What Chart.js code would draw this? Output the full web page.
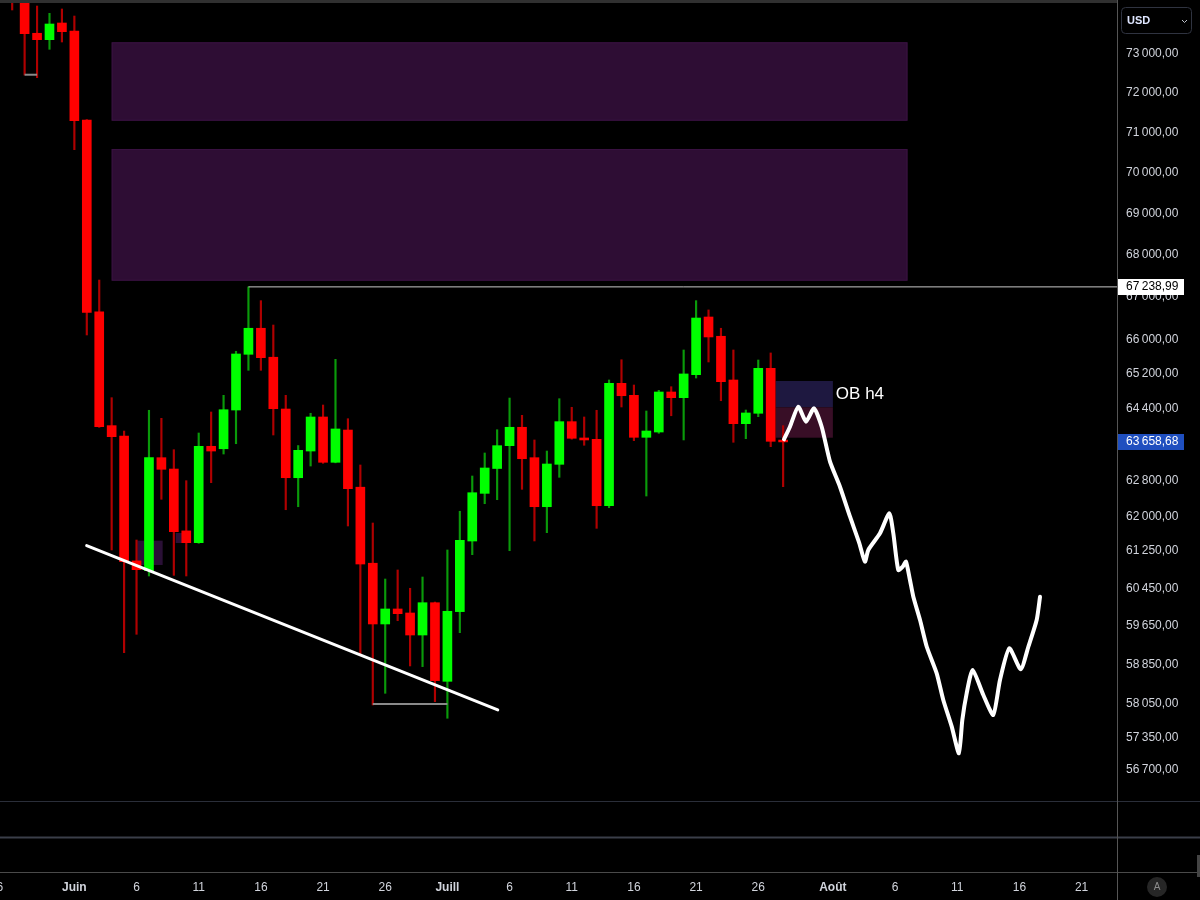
<!DOCTYPE html>
<html>
<head>
<meta charset="utf-8">
<script src="https://cdn.jsdelivr.net/npm/chart.js@4.4.1/dist/chart.umd.min.js"></script>
<style>
  html, body { margin: 0; padding: 0; background: #000; }
  #wrap { width: 1200px; height: 900px; }
</style>
</head>
<body>
<div id="wrap"><canvas id="graphique" width="1200" height="900"></canvas></div>
<script>
// ======== DONNÉES (jours comptés depuis le 1er juin) ========
const jours = [-5, -4, -3, -2, -1, 0, 1, 2, 3, 4, 5, 6, 7, 8, 9, 10, 11, 12, 13, 14, 15, 16, 17, 18, 19,
  20, 21, 22, 23, 24, 25, 26, 27, 28, 29, 30, 31, 32, 33, 34, 35, 36, 37, 38, 39, 40, 41, 42, 43, 44,
  45, 46, 47, 48, 49, 50, 51, 52, 53, 54, 55, 56, 57];
const ouvertures = [74900, 74700, 73536, 73370, 73803, 73595, 71320, 66648, 64025, 63792, 61040, 60830, 63305, 63052, 61690,
  61434, 63560, 63505, 64379, 65658, 66264, 65590, 64402, 62859, 63454, 64221, 63202, 63926, 62649, 60990,
  59696, 60013, 59928, 59464, 60146, 58500, 59957, 61470, 62513, 63064, 63574, 63988, 63305, 62219, 63157,
  64115, 63747, 63717, 62241, 64989, 64714, 63762, 63881, 64790, 64660, 65187, 66528, 66077, 65065, 64069,
  64305, 65334, 63700];
const hauts = [75100, 74900, 74247, 74056, 74169, 73985, 71330, 67402, 64660, 63903, 61492, 64373, 64191, 63484, 62793,
  63859, 64334, 64714, 65728, 67238.99, 66913, 66340, 64714, 63577, 64305, 64493, 65542, 64182, 63142, 61862,
  60651, 60845, 60453, 60694, 60160, 61276, 62119, 62897, 63410, 63933, 64652, 64259, 63702, 63454, 64637,
  64441, 64221, 64373, 65065, 65532, 64950, 64357, 64828, 64911, 65758, 66913, 66694, 66264, 65758, 64379,
  65526, 65689, 64025];
const bas = [74143, 72460, 72392, 73121, 73310, 70576, 66107, 63986, 61276, 59094, 59479, 60716, 62382, 60730, 60716,
  61420, 62749, 63387, 63618, 65288, 65288, 63814, 62153, 62219, 63119, 63179, 63190, 61797, 59047, 58014,
  58253, 59765, 58818, 58804, 58081, 57742, 59513, 61174, 62285, 62373, 61260, 62602, 61471, 61651, 62868,
  63720, 63583, 61746, 62197, 64448, 63686, 62454, 63852, 64249, 63702, 65110, 65480, 64591, 63650, 63731,
  64228, 63551, 62660];
const clotures = [74600, 73525, 73370, 73777, 73577, 71302, 66638, 64001, 63776, 61023, 60851, 63305, 63046, 61673, 61434,
  63560, 63454, 64386, 65665, 66264, 65580, 64409, 62859, 63470, 64221, 63202, 63950, 62616, 60973, 59696,
  60013, 59913, 59464, 60146, 58514, 59964, 61485, 62527, 63075, 63574, 63988, 63282, 62219, 63164, 64115,
  63740, 63702, 62241, 64989, 64705, 63762, 63904, 64790, 64660, 65204, 66504, 66061, 65026, 64069, 64312,
  65334, 63672, 63658.68];

// ======== AXES ========
const joursTicks = [-6, 0, 5, 10, 15, 20, 25, 30, 35, 40, 45, 50, 55, 61, 66, 71, 76, 81];
const labelsTicks = ['6', 'Juin', '6', '11', '16', '21', '26', 'Juill', '6', '11', '16', '21', '26', 'Août', '6', '11', '16', '21'];
const moisTicks = ['Juin', 'Juill', 'Août'];
const prixTicks = [73000, 72000, 71000, 70000, 69000, 68000, 67000, 66000, 65200, 64400,
  62800, 62000, 61250, 60450, 59650, 58850, 58050, 57350, 56700];
const xMin = -5.98, xMax = 83.85;
const yMin = 56080, yMax = 74326;

// ======== ANNOTATIONS ========
const zonesDebut = [3, 3];
const zonesFin = [67, 67];
const zonesHaut = [73302, 70593];
const zonesBas = [71301, 67386];
const petitesZonesDebut = [5.06, 8.15];
const petitesZonesFin = [7.1, 8.76];
const petitesZonesHaut = [61478, 61644];
const petitesZonesBas = [60952, 61427];
const obDebut = 56.4, obFin = 61;
const obPrix = [65042, 64441, 63753];
const niveauHaut = 67238.99;
const dernierPrix = 63658.68;
const tendanceJours = [0.99, 34.05];
const tendancePrix = [61369, 57912];
const crochetsJours = [[-4, -3], [24, 30]];
const crochetsPrix = [72468, 58034];
const projJours = [57.07, 57.55, 58.22, 58.84, 59.48, 60.10, 60.77, 61.57, 62.38, 63.13, 63.58, 63.85, 64.79,
  65.54, 65.86, 66.26, 66.62, 66.88, 67.20, 67.47, 68.01, 68.55, 69.35, 69.88, 70.56, 71.14, 71.41, 71.76,
  72.24, 73.10, 73.90, 74.44, 75.19, 76.11, 76.72, 77.39, 77.66];
const projPrix = [63717, 64001, 64455, 64115, 64418, 64001, 63216, 62660, 62000, 61421, 61023, 61276, 61638,
  62074, 61638, 60844, 60916, 61023, 60630, 60274, 59779, 59218, 58665, 58116, 57571, 57033, 57707, 58253,
  58735, 58218, 57810, 58528, 59185, 58750, 59218, 59779, 60274];

// ======== STYLE ========
const POLICE = 'Liberation Sans';
const VERT = '#00ff00', ROUGE = '#ff0000';
const VERT_MECHE = '#0a9a0a', ROUGE_MECHE = '#b00000';
const TEXTE = '#d1d4dc';

function formatPrix(v) {
  const [ent, dec] = v.toFixed(2).split('.');
  return ent.slice(0, -3) + '\u2009' + ent.slice(-3) + ',' + dec;
}

const hausse = jours.map((_, i) => clotures[i] >= ouvertures[i]);

const corps = jours.map((d, i) => ({ x: d, y: [ouvertures[i], clotures[i]] }));
const meches = jours.map((d, i) => ({ x: d, y: [bas[i], hauts[i]] }));

const ligneNiveau = [{ x: 14, y: niveauHaut }, { x: xMax + 1, y: niveauHaut }];
const ligneTendance = tendanceJours.map((d, i) => ({ x: d, y: tendancePrix[i] }));
const projection = projJours.map((d, i) => ({ x: d, y: projPrix[i] }));

function ligne(data, couleur, epaisseur, extra) {
  return Object.assign({
    type: 'line', data, borderColor: couleur, borderWidth: epaisseur,
    pointRadius: 0, tension: 0, order: 0, fill: false
  }, extra || {});
}

// ======== PLUGIN : zones, étiquettes, cadre ========
const decor = {
  id: 'decor',
  beforeDraw(chart) {
    const c = chart.ctx;
    c.save();
    c.fillStyle = '#000';
    c.fillRect(0, 0, chart.width, chart.height);
    c.restore();
  },
  beforeDatasetsDraw(chart) {
    const c = chart.ctx, x = chart.scales.x, y = chart.scales.y;
    c.save();
    zonesDebut.forEach((d, i) => {
      const x0 = x.getPixelForValue(d), x1 = x.getPixelForValue(zonesFin[i]);
      const y0 = y.getPixelForValue(zonesHaut[i]), y1 = y.getPixelForValue(zonesBas[i]);
      c.fillStyle = '#2e0d34';
      c.fillRect(x0, y0, x1 - x0, y1 - y0);
      c.strokeStyle = '#3a1242';
      c.lineWidth = 1;
      c.strokeRect(x0 + 0.5, y0 + 0.5, x1 - x0 - 1, y1 - y0 - 1);
    });
    petitesZonesDebut.forEach((d, i) => {
      const x0 = x.getPixelForValue(d), x1 = x.getPixelForValue(petitesZonesFin[i]);
      const y0 = y.getPixelForValue(petitesZonesHaut[i]), y1 = y.getPixelForValue(petitesZonesBas[i]);
      c.fillStyle = '#2a1036';
      c.fillRect(x0, y0, x1 - x0, y1 - y0);
    });
    // OB h4
    const ox0 = x.getPixelForValue(obDebut), ox1 = x.getPixelForValue(obFin);
    const p = obPrix.map(v => y.getPixelForValue(v));
    c.fillStyle = '#1e1840';
    c.fillRect(ox0, p[0], ox1 - ox0, p[1] - p[0]);
    c.fillStyle = '#380e26';
    c.fillRect(ox0, p[1], ox1 - ox0, p[2] - p[1]);
    c.restore();
  },
  afterDatasetsDraw(chart) {
    const c = chart.ctx, x = chart.scales.x, y = chart.scales.y;
    c.save();
    c.fillStyle = '#ffffff';
    c.font = '17px "' + POLICE + '"';
    c.textBaseline = 'middle';
    c.textAlign = 'left';
    c.fillText('OB h4', x.getPixelForValue(obFin) + 3, (y.getPixelForValue(obPrix[0]) + y.getPixelForValue(obPrix[1])) / 2);
    c.restore();
  },
  afterDraw(chart) {
    const c = chart.ctx, a = chart.chartArea, y = chart.scales.y;
    const W = chart.width, H = chart.height;
    c.save();
    // cadre
    c.fillStyle = '#303030';
    c.fillRect(0, 0, a.right, 3);
    c.lineWidth = 1;
    c.strokeStyle = '#2a2e39';
    c.beginPath(); c.moveTo(0, a.bottom + 0.5); c.lineTo(W, a.bottom + 0.5); c.stroke();
    c.strokeStyle = '#3a3e49';
    c.lineWidth = 2;
    c.beginPath(); c.moveTo(0, a.bottom + 36.5); c.lineTo(W, a.bottom + 36.5); c.stroke();
    c.lineWidth = 1;
    c.strokeStyle = '#4a4a4a';
    c.beginPath(); c.moveTo(0, a.bottom + 71.5); c.lineTo(W, a.bottom + 71.5); c.stroke();
    c.strokeStyle = '#555555';
    c.beginPath(); c.moveTo(a.right + 0.5, 0); c.lineTo(a.right + 0.5, H); c.stroke();

    // étiquettes de prix
    c.font = '12px "' + POLICE + '"';
    c.textBaseline = 'middle';
    c.textAlign = 'left';
    const etiquette = (v, fond, texte) => {
      const py = Math.round(y.getPixelForValue(v));
      c.fillStyle = fond;
      c.fillRect(a.right + 1, py - 8, 66, 16);
      c.fillStyle = texte;
      c.fillText(formatPrix(v), a.right + 9, py);
    };
    etiquette(niveauHaut, '#ffffff', '#000000');
    etiquette(dernierPrix, '#1f4fbf', '#ffffff');

    // sélecteur USD
    c.strokeStyle = '#2f3340';
    c.lineWidth = 1;
    c.beginPath();
    c.roundRect(a.right + 4.5, 7.5, 70, 26, 4);
    c.stroke();
    c.fillStyle = '#dfe6ff';
    c.font = 'bold 11px "' + POLICE + '"';
    c.fillText('USD', a.right + 10, 21);
    c.strokeStyle = '#c0c4cc';
    c.beginPath();
    c.moveTo(a.right + 65, 20); c.lineTo(a.right + 67.5, 22.5); c.lineTo(a.right + 70, 20);
    c.stroke();

    // bouton A
    c.fillStyle = '#262626';
    c.beginPath(); c.arc(a.right + 40, 887, 10, 0, Math.PI * 2); c.fill();
    c.fillStyle = '#8c8c8c';
    c.font = '10px "' + POLICE + '"';
    c.textAlign = 'center';
    c.fillText('A', a.right + 40, 887);
    c.fillStyle = '#444';
    c.fillRect(W - 3, 855, 3, 22);
    c.restore();
  }
};

// ======== GRAPHIQUE ========
const ctx = document.getElementById('graphique').getContext('2d');
const graphique = new Chart(ctx, {
  type: 'bar',
  data: {
    datasets: [
      ligne(ligneNiveau, '#c8c8c8', 1),
      ligne(crochetsJours[0].map(d => ({ x: d, y: crochetsPrix[0] })), '#8a8a8a', 2),
      ligne(crochetsJours[1].map(d => ({ x: d, y: crochetsPrix[1] })), '#8a8a8a', 2),
      ligne(ligneTendance, '#ffffff', 3, { borderCapStyle: 'round' }),
      ligne(projection, '#ffffff', 4, { tension: 0.2, borderCapStyle: 'round', borderJoinStyle: 'round' }),
      {
        type: 'bar', data: corps, order: 1, grouped: false, barThickness: 9,
        backgroundColor: hausse.map(h => h ? VERT : ROUGE), borderWidth: 0, borderSkipped: false
      },
      {
        type: 'bar', data: meches, order: 2, grouped: false, barThickness: 1.5,
        backgroundColor: hausse.map(h => h ? VERT_MECHE : ROUGE_MECHE), borderWidth: 0, borderSkipped: false
      }
    ]
  },
  options: {
    responsive: false,
    animation: false,
    devicePixelRatio: 1,
    layout: { padding: { top: 3, left: 0, right: 0, bottom: 0 } },
    plugins: { legend: { display: false }, tooltip: { enabled: false } },
    scales: {
      x: {
        type: 'linear', min: xMin, max: xMax, offset: false, bounds: 'data',
        grid: { display: false, drawTicks: false, offset: false },
        border: { display: false },
        afterBuildTicks: s => { s.ticks = joursTicks.map(v => ({ value: v })); },
        afterFit: s => { s.height = 99; s.paddingLeft = 0; s.paddingRight = 0; },
        ticks: {
          autoSkip: false, maxRotation: 0, minRotation: 0, padding: 79, color: TEXTE,
          font: c => ({ family: POLICE, size: 12, weight: moisTicks.includes(labelsTicks[c.index]) ? 'bold' : 'normal' }),
          callback: (v, i) => labelsTicks[i]
        }
      },
      y: {
        type: 'logarithmic', position: 'right', min: yMin, max: yMax, bounds: 'data',
        grid: { display: false, drawTicks: false },
        border: { display: false },
        afterBuildTicks: s => { s.ticks = prixTicks.map(v => ({ value: v })); },
        afterFit: s => { s.width = 83; s.paddingTop = 0; s.paddingBottom = 0; },
        ticks: {
          padding: 9, color: TEXTE, font: { family: POLICE, size: 12 },
          callback: v => formatPrix(v)
        }
      }
    }
  },
  plugins: [decor]
});
</script>
</body>
</html>
